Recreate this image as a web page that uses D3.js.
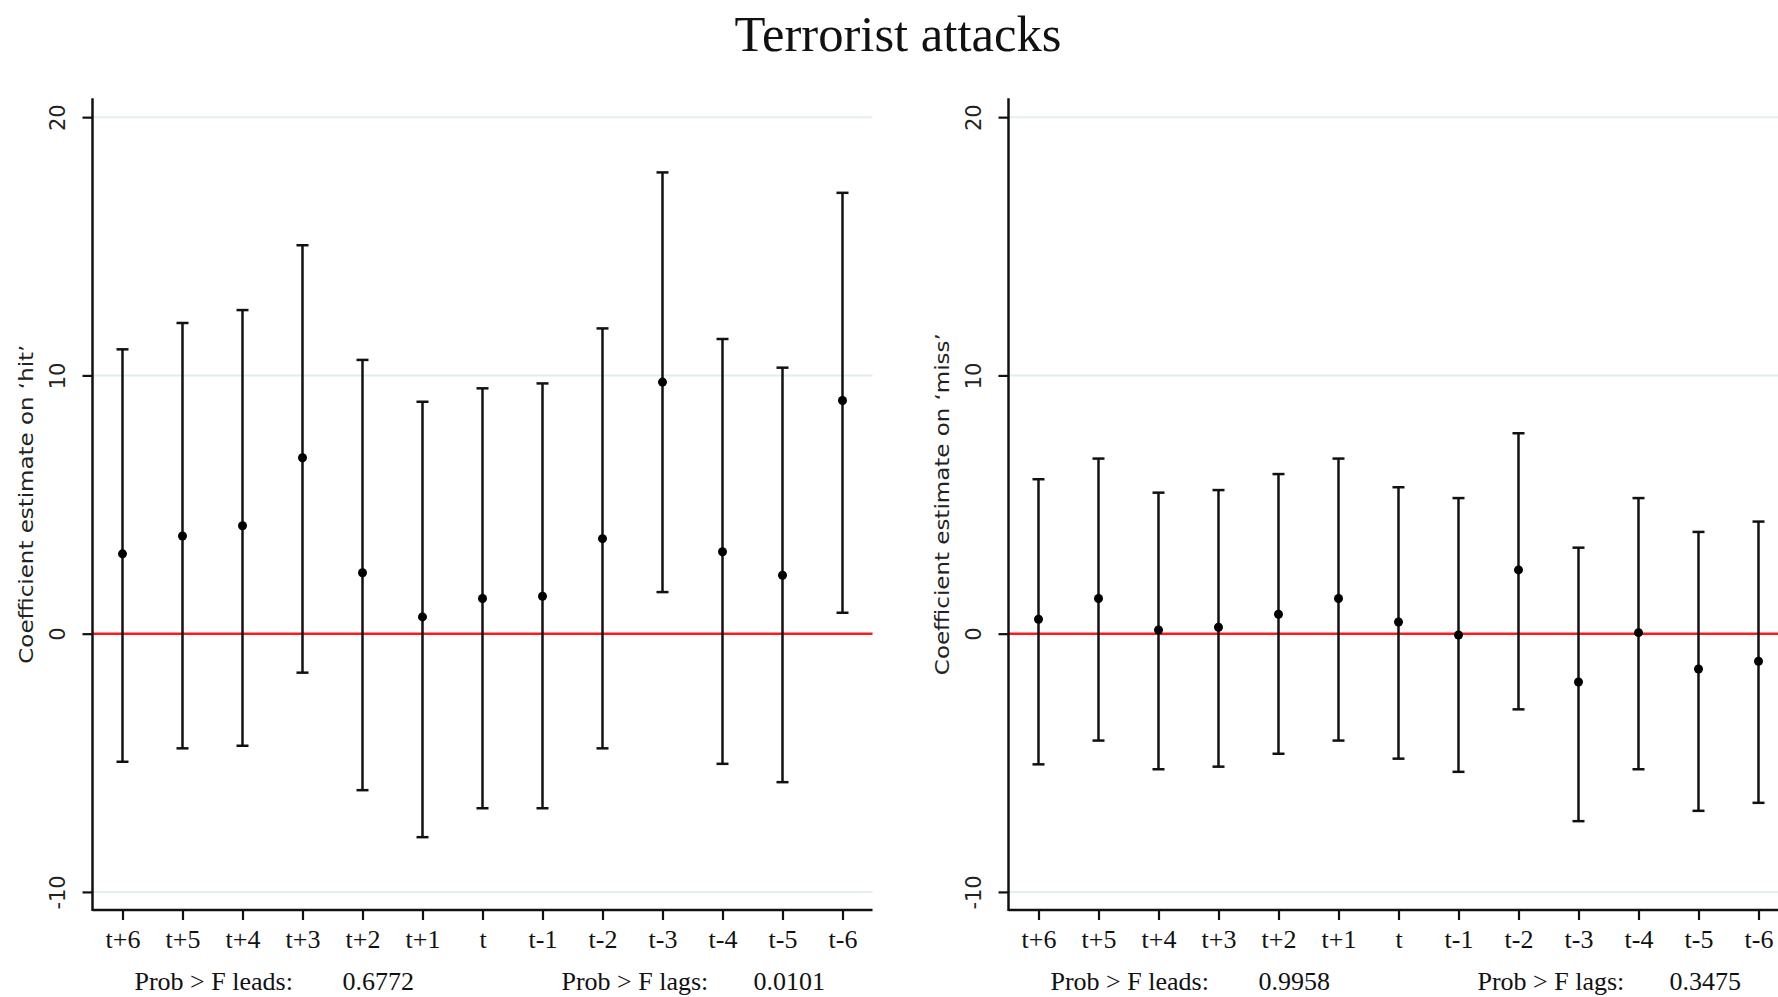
<!DOCTYPE html>
<html>
<head>
<meta charset="utf-8">
<script src="https://cdn.jsdelivr.net/npm/d3@7"></script>
<style>
  html, body { margin: 0; padding: 0; background: #ffffff; overflow: hidden; }
  svg { display: block; }
</style>
</head>
<body>
<svg id="chart" width="1778" height="997"></svg>
<script>
// ---------------- data ----------------
const chartTitle = "Terrorist attacks";
const categories = ["t+6","t+5","t+4","t+3","t+2","t+1","t","t-1","t-2","t-3","t-4","t-5","t-6"];
const yTicks = [20, 10, 0, -10];

const hitCoef  = [3.09, 3.78, 4.18, 6.81, 2.36, 0.65, 1.36, 1.45, 3.68, 9.74, 3.17, 2.26, 9.03];
const hitUpper = [11.01, 12.03, 12.53, 15.04, 10.60, 8.98, 9.50, 9.69, 11.82, 17.86, 11.41, 10.30, 17.07];
const hitLower = [-4.96, -4.44, -4.34, -1.51, -6.06, -7.88, -6.76, -6.76, -4.44, 1.61, -5.04, -5.75, 0.81];

const missCoef  = [0.56, 1.36, 0.14, 0.25, 0.75, 1.36, 0.45, -0.05, 2.47, -1.87, 0.04, -1.37, -1.07];
const missUpper = [5.98, 6.78, 5.46, 5.56, 6.18, 6.78, 5.67, 5.25, 7.76, 3.33, 5.25, 3.94, 4.34];
const missLower = [-5.06, -4.14, -5.25, -5.15, -4.65, -4.14, -4.84, -5.35, -2.93, -7.26, -5.25, -6.86, -6.55];

const panelTitles = ["Coefficient estimate on \u2018hit\u2019", "Coefficient estimate on \u2018miss\u2019"];
const leadsLabel = "Prob > F leads:";
const lagsLabel = "Prob > F lags:";
const pLeads = ["0.6772", "0.9958"];
const pLags  = ["0.0101", "0.3475"];

// ---------------- layout ----------------
const svg = d3.select("#chart");
const W = 1778, H = 997;
svg.append("rect").attr("width", W).attr("height", H).attr("fill", "#ffffff");

svg.append("text")
  .attr("x", 898).attr("y", 51)
  .attr("text-anchor", "middle")
  .attr("font-family", "'Liberation Serif', 'Times New Roman', serif")
  .attr("font-size", 50)
  .attr("textLength", 327).attr("lengthAdjust", "spacingAndGlyphs")
  .attr("fill", "#111")
  .text(chartTitle);

const plotTop = 98.3, plotBottom = 910, plotWidth = 780;
const panels = [
  { x0: 92.5, coef: hitCoef, up: hitUpper, lo: hitLower, title: panelTitles[0], leads: pLeads[0], lags: pLags[0], titleLen: 319 },
  { x0: 1008.5, coef: missCoef, up: missUpper, lo: missLower, title: panelTitles[1], leads: pLeads[1], lags: pLags[1], titleLen: 342 }
];

const y = d3.scaleLinear().domain([-10.7, 20.73]).range([plotBottom, plotTop]);
const serif = "'Liberation Serif', 'Times New Roman', serif";
const sans = "'DejaVu Sans', Verdana, sans-serif";

panels.forEach(p => {
  const x = d3.scaleLinear().domain([0.5, categories.length + 0.5]).range([p.x0, p.x0 + plotWidth]);
  const g = svg.append("g");
  const xEnd = p.x0 + plotWidth;

  // gridlines
  g.selectAll("line.grid").data(yTicks.filter(t => t !== 0)).enter().append("line")
    .attr("x1", p.x0).attr("x2", xEnd)
    .attr("y1", d => y(d)).attr("y2", d => y(d))
    .attr("stroke", "#e2eef0").attr("stroke-width", 2);

  // zero reference line
  g.append("line")
    .attr("x1", p.x0).attr("x2", xEnd)
    .attr("y1", y(0)).attr("y2", y(0))
    .attr("stroke", "#ff1a1a").attr("stroke-width", 2.5);

  // error bars
  const idx = d3.range(categories.length);
  g.selectAll("line.bar").data(idx).enter().append("line")
    .attr("x1", i => x(i + 1)).attr("x2", i => x(i + 1))
    .attr("y1", i => y(p.up[i])).attr("y2", i => y(p.lo[i]))
    .attr("stroke", "#111").attr("stroke-width", 2.5);
  ["up", "lo"].forEach(k => {
    g.selectAll("line.cap" + k).data(idx).enter().append("line")
      .attr("x1", i => x(i + 1) - 6).attr("x2", i => x(i + 1) + 6)
      .attr("y1", i => y(p[k][i])).attr("y2", i => y(p[k][i]))
      .attr("stroke", "#111").attr("stroke-width", 2.5);
  });
  g.selectAll("circle").data(idx).enter().append("circle")
    .attr("cx", i => x(i + 1)).attr("cy", i => y(p.coef[i]))
    .attr("r", 4.5).attr("fill", "#000");

  // axes
  const yAxis = d3.axisLeft(y).tickValues(yTicks).tickSize(10).tickFormat(d => d);
  const ya = g.append("g").attr("transform", `translate(${p.x0},0)`).call(yAxis);
  ya.select(".domain").remove();
  ya.selectAll(".tick line").attr("stroke", "#111").attr("stroke-width", 2.2);
  ya.selectAll(".tick text")
    .attr("x", 0).attr("y", 0)
    .attr("transform", "translate(-35,0) rotate(-90)")
    .attr("text-anchor", "middle").attr("dy", "0.35em")
    .attr("font-family", sans).attr("font-size", 21).attr("fill", "#222");

  const xAxis = d3.axisBottom(x).tickValues(idx.map(i => i + 1)).tickSize(10)
    .tickFormat(d => categories[d - 1]);
  const xa = g.append("g").attr("transform", `translate(0,${plotBottom})`).call(xAxis);
  xa.select(".domain").remove();
  xa.selectAll(".tick line").attr("stroke", "#111").attr("stroke-width", 2.2);
  xa.selectAll(".tick text")
    .attr("y", 38).attr("dy", 0)
    .attr("font-family", serif).attr("font-size", 26).attr("fill", "#111");

  // axis lines
  g.append("line").attr("x1", p.x0).attr("x2", p.x0).attr("y1", plotTop).attr("y2", plotBottom + 1)
    .attr("stroke", "#111").attr("stroke-width", 2.5);
  g.append("line").attr("x1", p.x0).attr("x2", xEnd).attr("y1", plotBottom).attr("y2", plotBottom)
    .attr("stroke", "#111").attr("stroke-width", 2.5);

  // y title
  const cy = (plotTop + plotBottom) / 2;
  g.append("text")
    .attr("transform", `translate(${p.x0 - 67},${cy}) rotate(-90)`)
    .attr("text-anchor", "middle").attr("dy", "0.35em")
    .attr("font-family", sans).attr("font-size", 20)
    .attr("textLength", p.titleLen).attr("lengthAdjust", "spacingAndGlyphs")
    .attr("fill", "#222")
    .text(p.title);

  // F-test notes
  const noteY = 990;
  const note = (dx, txt) => g.append("text")
    .attr("x", p.x0 + dx).attr("y", noteY)
    .attr("font-family", serif).attr("font-size", 26).attr("fill", "#111")
    .text(txt);
  note(42, leadsLabel);
  note(250, p.leads);
  note(469, lagsLabel);
  note(661, p.lags);
});
</script>
</body>
</html>
